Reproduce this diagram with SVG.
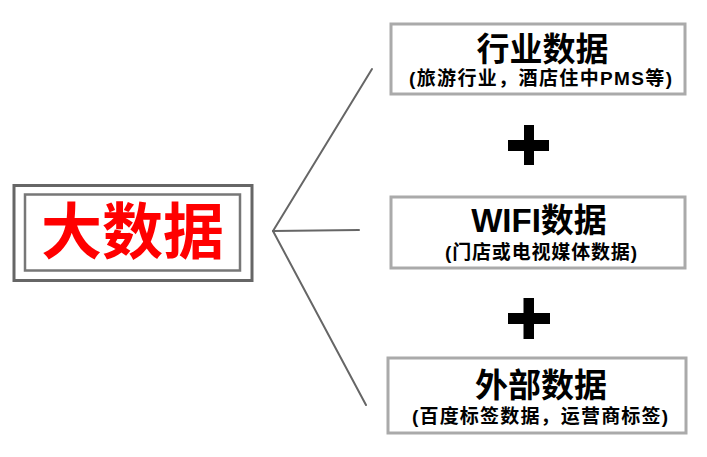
<svg xmlns="http://www.w3.org/2000/svg" width="707" height="457" viewBox="0 0 707 457">
<style>
.t{font-family:"Liberation Sans","Noto Sans CJK SC",sans-serif;font-weight:bold;text-anchor:middle;fill:#000}
.box{fill:#fff;stroke:#aaa;stroke-width:3}
.conn{stroke:#666;stroke-width:2;fill:none;stroke-linecap:round}
</style>
<rect width="707" height="457" fill="#fff"/>
<g id="connectors">
<line class="conn" x1="273" y1="231" x2="372" y2="69"/>
<line class="conn" x1="273" y1="231" x2="359" y2="230"/>
<line class="conn" x1="273" y1="231" x2="366" y2="405"/>
</g>
<g id="bigdata">
<rect x="14" y="185.5" width="238" height="95" fill="#fff" stroke="#666" stroke-width="3"/>
<rect x="25" y="194.5" width="215" height="76" fill="#fff" stroke="#777" stroke-width="2.5"/>
<text class="t" x="132.5" y="254" font-size="61" style="fill:#f00">大数据</text>
</g>
<g id="industry">
<rect class="box" x="391" y="24" width="294" height="70"/>
<text class="t" x="542.5" y="61" font-size="33">行业数据</text>
<text class="t" x="540.5" y="84.5" font-size="19" textLength="263" lengthAdjust="spacing">(旅游行业，酒店住中PMS等)</text>
</g>
<g id="plus1">
<rect x="524" y="125" width="10" height="40" fill="#000"/>
<rect x="508" y="140" width="41" height="11" fill="#000"/>
</g>
<g id="wifi">
<rect class="box" x="391" y="197" width="294" height="71"/>
<text class="t" x="539" y="232" font-size="33">WIFI数据</text>
<text class="t" x="541" y="259" font-size="19" textLength="192" lengthAdjust="spacing">(门店或电视媒体数据)</text>
</g>
<g id="plus2">
<rect x="523.5" y="298" width="10.5" height="41" fill="#000"/>
<rect x="508" y="313" width="42" height="11" fill="#000"/>
</g>
<g id="external">
<rect class="box" x="388" y="358" width="298" height="75"/>
<text class="t" x="541" y="397" font-size="33">外部数据</text>
<text class="t" x="540" y="423" font-size="19" textLength="256" lengthAdjust="spacing">(百度标签数据，运营商标签)</text>
</g>
</svg>
